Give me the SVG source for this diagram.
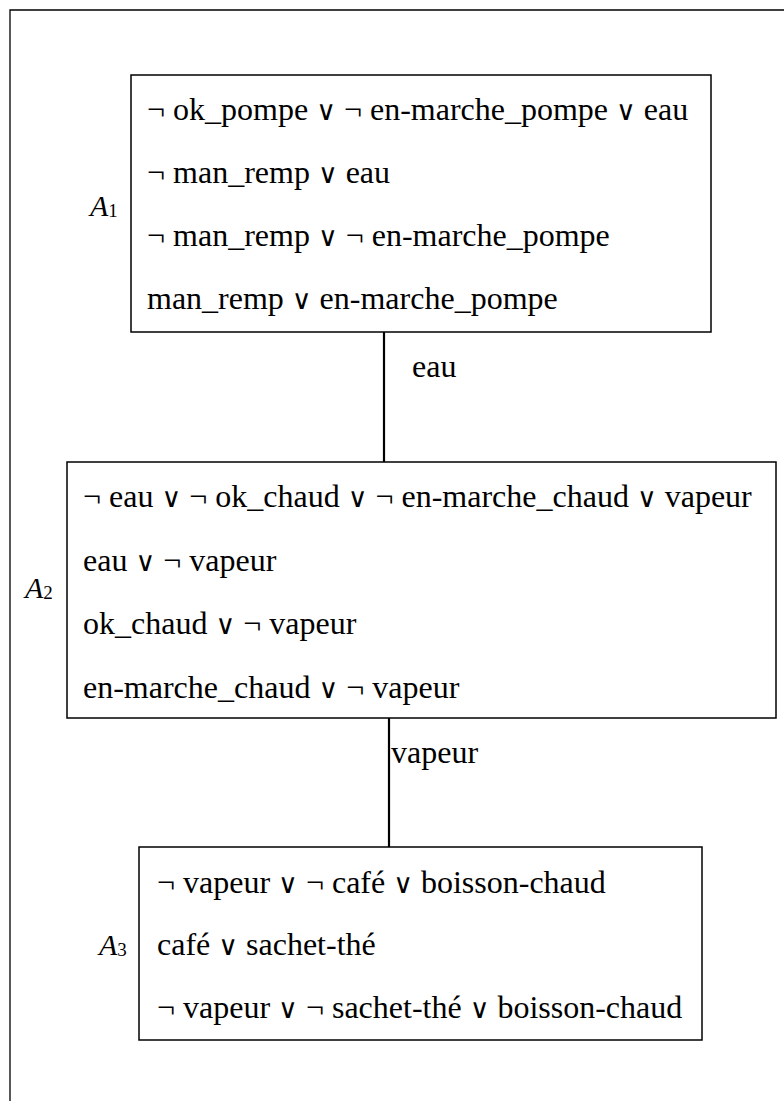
<svg xmlns="http://www.w3.org/2000/svg" width="784" height="1101" viewBox="0 0 784 1101" font-family="'Liberation Serif', 'Times New Roman', 'DejaVu Serif', serif">
<style>
.box{fill:#fff;stroke:#000;stroke-width:1.5}
.t{font-family:"Liberation Serif","Times New Roman",serif;font-size:32px;fill:#000}
.o{font-family:"DejaVu Serif",serif;font-size:27px}
.lbl{font-family:"Liberation Serif","Times New Roman",serif;font-size:30px;font-style:italic;fill:#000}
.sub{font-style:normal;font-size:19px}
.edge{stroke:#000;stroke-width:2.2;fill:none}
</style>
<rect x="0" y="0" width="784" height="1101" fill="#fff"/>
<path d="M10,1101 V10 H784" fill="none" stroke="#000" stroke-width="1.3"/>
<g id="connectors">
<line class="edge" x1="384" y1="332" x2="384" y2="462"/>
<text class="t" x="412" y="377">eau</text>
<line class="edge" x1="389" y1="718" x2="389" y2="847"/>
<text class="t" x="391" y="763">vapeur</text>
</g>
<g id="A1">
<rect class="box" x="131" y="75" width="580" height="257"/>
<text class="lbl" x="90" y="216">A<tspan class="sub" dy="1">1</tspan></text>
<text class="t" x="147" y="120">¬ ok_pompe <tspan class="o">∨</tspan> ¬ en-marche_pompe <tspan class="o">∨</tspan> eau</text>
<text class="t" x="147" y="183">¬ man_remp <tspan class="o">∨</tspan> eau</text>
<text class="t" x="147" y="245.5">¬ man_remp <tspan class="o">∨</tspan> ¬ en-marche_pompe</text>
<text class="t" x="147" y="309">man_remp <tspan class="o">∨</tspan> en-marche_pompe</text>
</g>
<g id="A2">
<rect class="box" x="67" y="462" width="709" height="256"/>
<text class="lbl" x="25" y="598">A<tspan class="sub" dy="1">2</tspan></text>
<text class="t" x="83" y="507">¬ eau <tspan class="o">∨</tspan> ¬ ok_chaud <tspan class="o">∨</tspan> ¬ en-marche_chaud <tspan class="o">∨</tspan> vapeur</text>
<text class="t" x="83" y="570.5">eau <tspan class="o">∨</tspan> ¬ vapeur</text>
<text class="t" x="83" y="634">ok_chaud <tspan class="o">∨</tspan> ¬ vapeur</text>
<text class="t" x="83" y="697.5">en-marche_chaud <tspan class="o">∨</tspan> ¬ vapeur</text>
</g>
<g id="A3">
<rect class="box" x="139" y="847" width="563" height="193"/>
<text class="lbl" x="99" y="955">A<tspan class="sub" dy="1">3</tspan></text>
<text class="t" x="157" y="893">¬ vapeur <tspan class="o">∨</tspan> ¬ café <tspan class="o">∨</tspan> boisson-chaud</text>
<text class="t" x="157" y="955">café <tspan class="o">∨</tspan> sachet-thé</text>
<text class="t" x="157" y="1018">¬ vapeur <tspan class="o">∨</tspan> ¬ sachet-thé <tspan class="o">∨</tspan> boisson-chaud</text>
</g>
</svg>
